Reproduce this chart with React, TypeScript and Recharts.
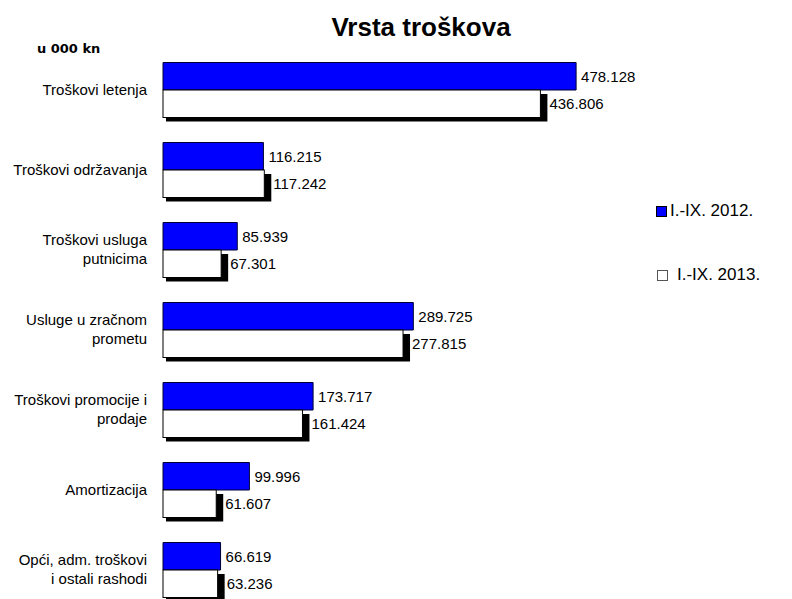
import React from "react";
import { Bar, BarChart, LabelList, XAxis, YAxis } from "recharts";

const categories = [
  "Troškovi letenja",
  "Troškovi održavanja",
  "Troškovi usluga\nputnicima",
  "Usluge u zračnom\nprometu",
  "Troškovi promocije i\nprodaje",
  "Amortizacija",
  "Opći, adm. troškovi\ni ostali rashodi",
];
const values2012 = [478.128, 116.215, 85.939, 289.725, 173.717, 99.996, 66.619];
const values2013 = [436.806, 117.242, 67.301, 277.815, 161.424, 61.607, 63.236];
const seriesNames = ["I.-IX. 2012.", "I.-IX. 2013."];

const data = categories.map((name, i) => ({ name, y2012: values2012[i], y2013: values2013[i] }));

const FONT = '"Liberation Sans", Arial, sans-serif';

function CategoryTick(props: any) {
  const { x, y, payload } = props;
  const lines = String(payload.value).split("\n");
  const lh = 19;
  const start = y - ((lines.length - 1) * lh) / 2;
  return (
    <text x={x} y={start} textAnchor="end" fontFamily={FONT} fontSize={15} fill="#000">
      {lines.map((l, i) => (
        <tspan key={i} x={x} y={start + i * lh} dy="0.35em">
          {l}
        </tspan>
      ))}
    </text>
  );
}

function ShadowBar(props: any) {
  const { x, y, width, height } = props;
  if (!width || width <= 0) return null;
  return (
    <g>
      <rect x={x + 3} y={y + 4} width={width + 4} height={height} fill="#000" />
      <rect x={x} y={y} width={width} height={height} fill="#fff" stroke="#000" strokeWidth={1} />
    </g>
  );
}

function LegendBox() {
  return (
    <div style={{ position: "absolute", left: 656, top: 201, fontFamily: FONT, fontSize: 17, color: "#000" }}>
      <div style={{ display: "flex", alignItems: "center", height: 20 }}>
        <span style={{ width: 9, height: 9, background: "#0000ff", border: "1px solid #000", marginRight: 3 }} />
        <span>{seriesNames[0]}</span>
      </div>
      <div style={{ display: "flex", alignItems: "center", height: 20, marginTop: 44 }}>
        <span style={{ width: 9, height: 9, background: "#fff", border: "1px solid #555", marginRight: 9, marginLeft: 1 }} />
        <span>{seriesNames[1]}</span>
      </div>
    </div>
  );
}

export default function App() {
  return (
    <div style={{ position: "fixed", left: 0, top: 0, width: 792, height: 599, overflow: "hidden", background: "#fff" }}>
      <div
        style={{
          position: "absolute",
          left: 0,
          width: 842,
          top: 12,
          textAlign: "center",
          fontFamily: FONT,
          fontWeight: "bold",
          fontSize: 26,
          lineHeight: "30px",
          color: "#000",
        }}
      >
        Vrsta troškova
      </div>
      <div
        style={{
          position: "absolute",
          left: 37,
          top: 40,
          fontFamily: '"DejaVu Sans", sans-serif',
          fontWeight: "bold",
          fontSize: 13,
          lineHeight: "17px",
          color: "#000",
        }}
      >
        u 000 kn
      </div>
      <LegendBox />
      <div style={{ position: "absolute", left: 0, top: 0 }}>
        <BarChart
          width={792}
          height={620}
          data={data}
          layout="vertical"
          margin={{ top: 49.5, right: 197, bottom: 10.5, left: 0 }}
          barGap={0}
          barSize={27.5}
        >
          <XAxis type="number" domain={[0, 500]} hide />
          <YAxis
            type="category"
            dataKey="name"
            width={163}
            axisLine={false}
            tickLine={false}
            tickSize={0}
            tickMargin={16}
            interval={0}
            tick={<CategoryTick />}
          />
          <Bar dataKey="y2012" name={seriesNames[0]} fill="#0000ff" stroke="#000033" strokeWidth={1} isAnimationActive={false}>
            <LabelList
              dataKey="y2012"
              position="right"
              offset={5}
              formatter={(v: any) => Number(v).toFixed(3)}
              fill="#000"
              fontSize={15}
              fontFamily={FONT}
            />
          </Bar>
          <Bar dataKey="y2013" name={seriesNames[1]} fill="#fff" shape={<ShadowBar />} isAnimationActive={false}>
            <LabelList
              dataKey="y2013"
              position="right"
              offset={9}
              formatter={(v: any) => Number(v).toFixed(3)}
              fill="#000"
              fontSize={15}
              fontFamily={FONT}
            />
          </Bar>
        </BarChart>
      </div>
    </div>
  );
}
